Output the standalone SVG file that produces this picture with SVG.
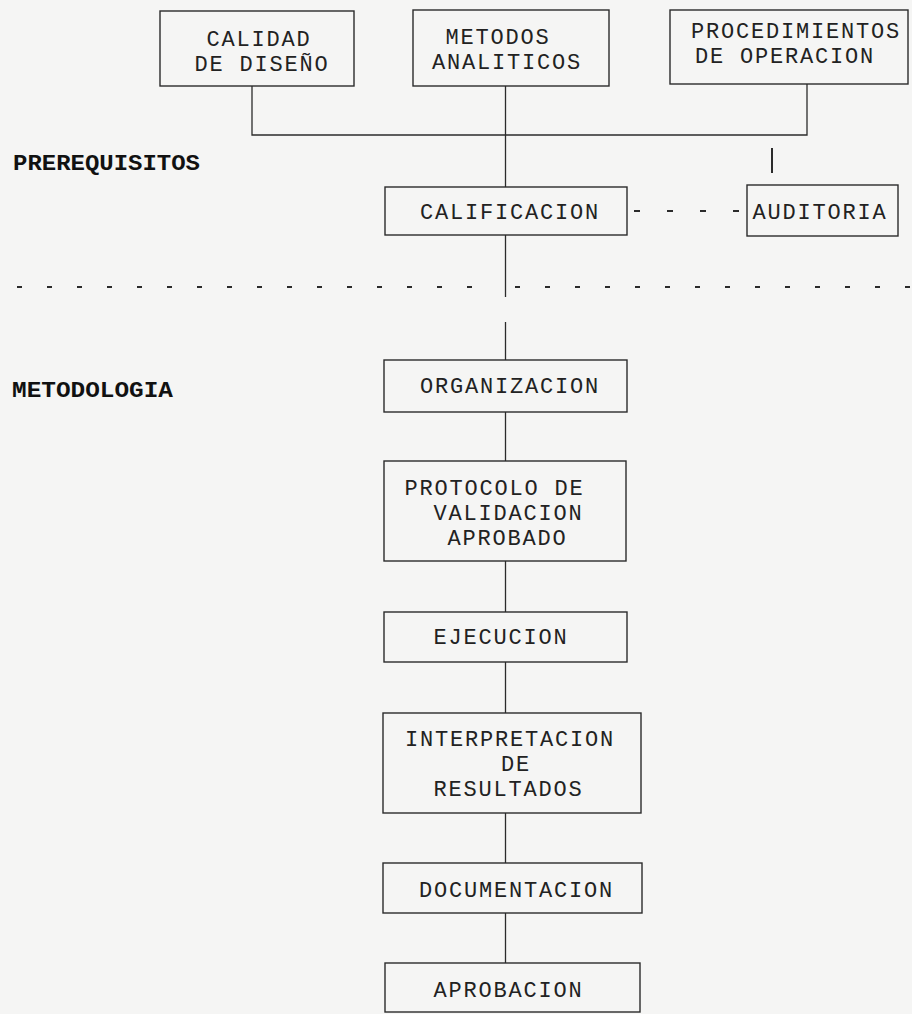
<svg xmlns="http://www.w3.org/2000/svg" width="912" height="1014" viewBox="0 0 912 1014">
  <style>
    .box { fill: none; stroke: #2b2b2b; stroke-width: 1.4; }
    .ln { fill: none; stroke: #2b2b2b; stroke-width: 1.3; }
    .dash { fill: none; stroke: #2b2b2b; stroke-width: 1.8; stroke-dasharray: 5 25; }
    .t { font-family: "Liberation Mono", "DejaVu Sans Mono", monospace; font-size: 22px; letter-spacing: 1.8px; fill: #222; text-anchor: middle; }
    .h { font-family: "Liberation Mono", "DejaVu Sans Mono", monospace; font-size: 22px; font-weight: bold; fill: #111; }
  </style>
  <rect width="912" height="1014" fill="#f5f5f4"/>

  <g id="connectors">
    <path class="ln" d="M252 86 V135 H807 V84"/>
    <path class="ln" d="M505.5 86 V187"/>
    <path class="ln" d="M772 148 V173" style="stroke-width:2"/>
    <path class="dash" d="M634 211 H747" style="stroke-dasharray:6 27"/>
    <path class="ln" d="M505.5 235 V297"/>
    <path class="dash" d="M17 287 H495"/>
    <path class="dash" d="M515 287 H912"/>
    <path class="ln" d="M505.5 322 V360"/>
    <path class="ln" d="M505.5 412 V461"/>
    <path class="ln" d="M505.5 561 V612"/>
    <path class="ln" d="M505.5 662 V713"/>
    <path class="ln" d="M505.5 813 V863"/>
    <path class="ln" d="M505.5 913 V963"/>
  </g>

  <g id="label-prerequisitos">
    <text class="h" x="13" y="170" textLength="187" lengthAdjust="spacingAndGlyphs">PREREQUISITOS</text>
  </g>
  <g id="label-metodologia">
    <text class="h" x="12" y="397" textLength="161" lengthAdjust="spacingAndGlyphs">METODOLOGIA</text>
  </g>

  <g id="calidad">
    <rect class="box" x="160" y="11" width="194" height="75"/>
    <text class="t" x="259" y="46">CALIDAD</text>
    <text class="t" x="262" y="71">DE DISEÑO</text>
  </g>
  <g id="metodos">
    <rect class="box" x="413" y="10" width="196" height="76"/>
    <text class="t" x="498" y="44">METODOS</text>
    <text class="t" x="507" y="69">ANALITICOS</text>
  </g>
  <g id="procedimientos">
    <rect class="box" x="670" y="10" width="238" height="74"/>
    <text class="t" x="796" y="38">PROCEDIMIENTOS</text>
    <text class="t" x="785" y="63">DE OPERACION</text>
  </g>
  <g id="calificacion">
    <rect class="box" x="385" y="187" width="242" height="48"/>
    <text class="t" x="510" y="219">CALIFICACION</text>
  </g>
  <g id="auditoria">
    <rect class="box" x="747" y="185" width="151" height="51"/>
    <text class="t" x="820" y="219">AUDITORIA</text>
  </g>
  <g id="organizacion">
    <rect class="box" x="384" y="360" width="243" height="52"/>
    <text class="t" x="510" y="393">ORGANIZACION</text>
  </g>
  <g id="protocolo">
    <rect class="box" x="384" y="461" width="242" height="100"/>
    <text class="t" x="494.5" y="495">PROTOCOLO DE</text>
    <text class="t" x="508.5" y="520">VALIDACION</text>
    <text class="t" x="507.5" y="545">APROBADO</text>
  </g>
  <g id="ejecucion">
    <rect class="box" x="384" y="612" width="243" height="50"/>
    <text class="t" x="501" y="644">EJECUCION</text>
  </g>
  <g id="interpretacion">
    <rect class="box" x="383" y="713" width="258" height="100"/>
    <text class="t" x="510" y="746">INTERPRETACION</text>
    <text class="t" x="516" y="771">DE</text>
    <text class="t" x="508.5" y="796">RESULTADOS</text>
  </g>
  <g id="documentacion">
    <rect class="box" x="383" y="863" width="259" height="50"/>
    <text class="t" x="516.5" y="897">DOCUMENTACION</text>
  </g>
  <g id="aprobacion">
    <rect class="box" x="385" y="963" width="255" height="49"/>
    <text class="t" x="508.5" y="997">APROBACION</text>
  </g>
</svg>
